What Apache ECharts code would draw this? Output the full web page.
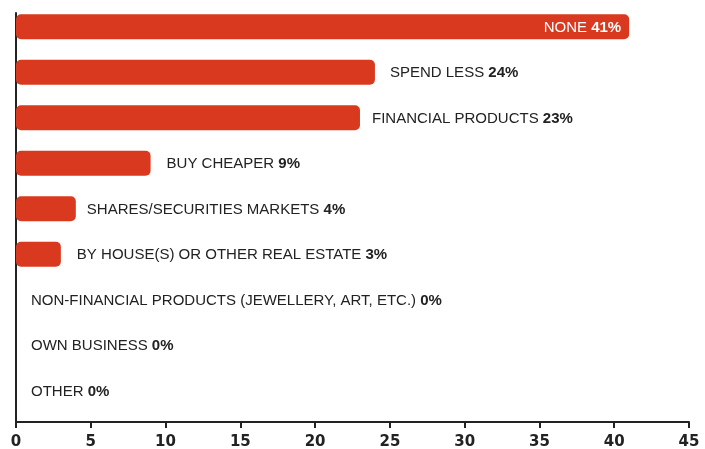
<!DOCTYPE html>
<html>
<head>
<meta charset="utf-8">
<script src="https://cdn.jsdelivr.net/npm/echarts@6/dist/echarts.min.js"></script>
<style>
  html, body { margin: 0; padding: 0; background: #fff; }
  #chart { width: 705px; height: 449px; }
</style>
</head>
<body>
<div id="chart"></div>
<script>
// Where savings go: share of respondents per option (%)
const categories = [
  'NONE',
  'SPEND LESS',
  'FINANCIAL PRODUCTS',
  'BUY CHEAPER',
  'SHARES/SECURITIES MARKETS',
  'BY HOUSE(S) OR OTHER REAL ESTATE',
  'NON-FINANCIAL PRODUCTS (JEWELLERY, ART, ETC.)',
  'OWN BUSINESS',
  'OTHER'
];
const values = [41, 24, 23, 9, 4, 3, 0, 0, 0];
const axisMin = 0;
const axisMax = 45;
const axisStep = 5;

const RED = '#d93a1f';
const INK = '#222222';
const FONT = '"Liberation Sans", Arial, sans-serif';
const TICK_FONT = '"DejaVu Sans", sans-serif';

// gap between bar end and its caption (first caption sits inside the bar)
const labelGaps = [8, 15, 12, 16, 11, 16, 15, 15, 15];

const chart = echarts.init(document.getElementById('chart'), null, { renderer: 'canvas' });

const barData = values.map((v, i) => {
  const first = i === 0;
  return {
    value: v,
    label: first
      ? { position: 'insideRight', distance: labelGaps[i], color: '#ffffff' }
      : { position: 'right', distance: labelGaps[i], color: INK }
  };
});

chart.setOption({
  animation: false,
  backgroundColor: '#ffffff',
  grid: [
    { left: 16, right: 16, top: 4, height: 409.5, outerBoundsMode: 'none', containLabel: false },
    { left: 16, right: 16, top: 13, height: 409, outerBoundsMode: 'none', containLabel: false }
  ],
  xAxis: [
    { gridIndex: 0, type: 'value', min: axisMin, max: axisMax, show: false },
    {
      gridIndex: 1, type: 'value', min: axisMin, max: axisMax, interval: axisStep,
      splitLine: { show: false },
      axisLine: { show: true, lineStyle: { color: INK, width: 2 } },
      axisTick: { show: true, length: 6, lineStyle: { color: INK, width: 2 } },
      axisLabel: { color: INK, fontFamily: TICK_FONT, fontWeight: 'bold', fontSize: 15, margin: 13 }
    }
  ],
  yAxis: [
    { gridIndex: 0, type: 'category', inverse: true, data: categories, show: false },
    {
      gridIndex: 1, type: 'category', data: [''],
      axisLine: { show: true, lineStyle: { color: INK, width: 2 } },
      axisTick: { show: false }, axisLabel: { show: false }, splitLine: { show: false }
    }
  ],
  series: [{
    type: 'bar',
    xAxisIndex: 0,
    yAxisIndex: 0,
    data: barData,
    barWidth: 25,
    itemStyle: { color: RED, borderRadius: 5 },
    label: {
      show: true,
      fontFamily: FONT,
      fontSize: 15,
      formatter: p => '{n|' + categories[p.dataIndex] + '} {v|' + p.value + '%}',
      rich: {
        n: { fontFamily: FONT, fontSize: 15, padding: [2, 0, 0, 0] },
        v: { fontFamily: FONT, fontSize: 15, fontWeight: 'bold', padding: [2, 0, 0, 0] }
      }
    }
  }]
});
</script>
</body>
</html>
